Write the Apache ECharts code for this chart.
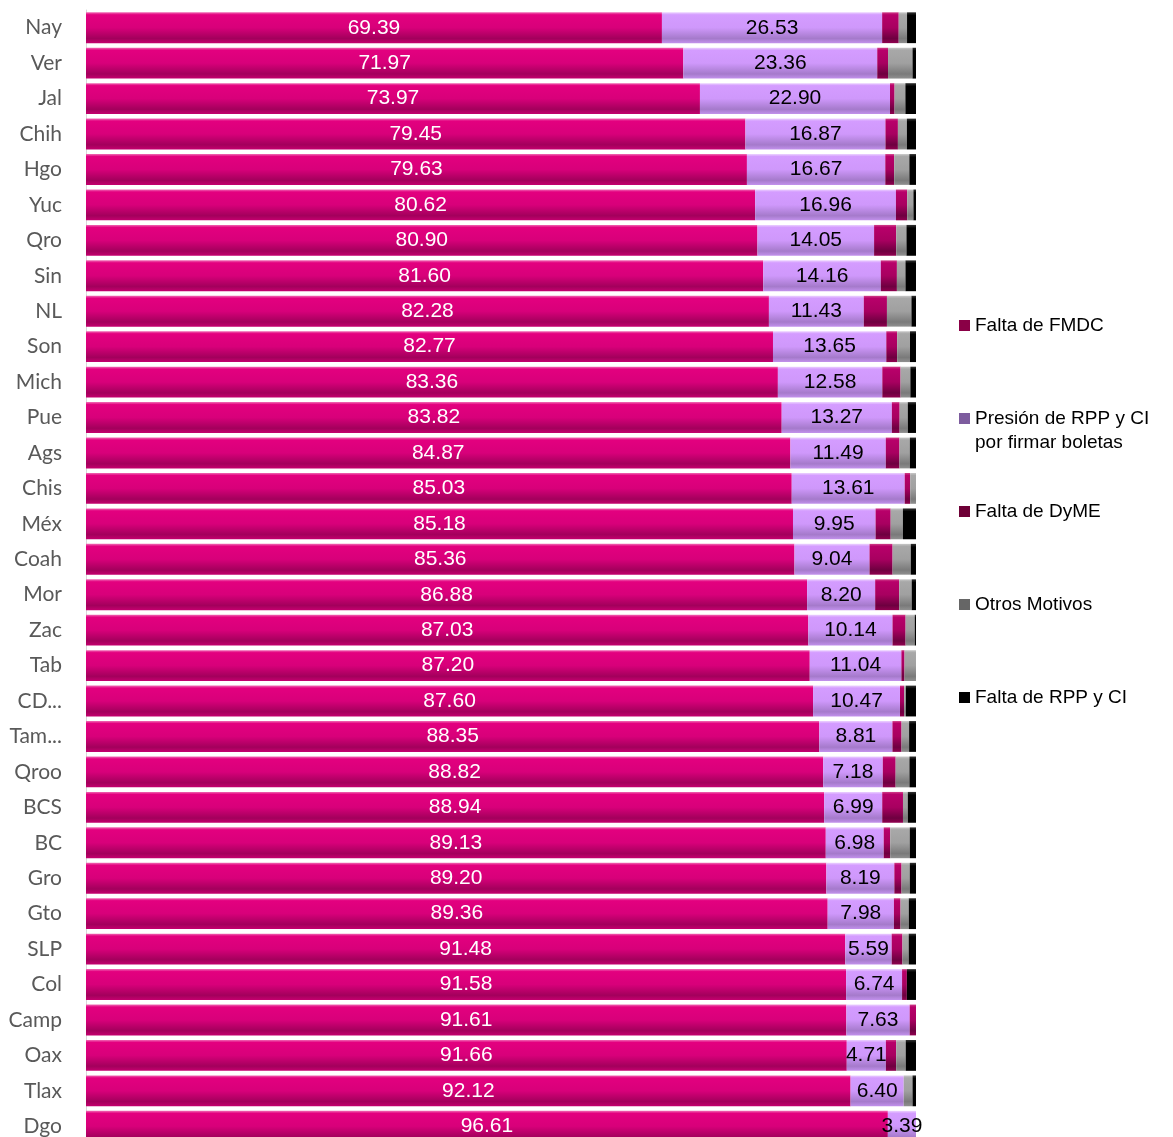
<!DOCTYPE html>
<html>
<head>
<meta charset="utf-8">
<script src="https://cdn.jsdelivr.net/npm/echarts@6/dist/echarts.min.js"></script>
<style>html,body{margin:0;padding:0;background:#fff;overflow:hidden;}#chart{width:1173px;height:1150px;}</style>
</head>
<body>
<div id="chart"></div>
<script>
const categories = ["Nay","Ver","Jal","Chih","Hgo","Yuc","Qro","Sin","NL","Son","Mich","Pue","Ags","Chis","Méx","Coah","Mor","Zac","Tab","CD...","Tam...","Qroo","BCS","BC","Gro","Gto","SLP","Col","Camp","Oax","Tlax","Dgo"];
const faltaFMDC = [69.39,71.97,73.97,79.45,79.63,80.62,80.90,81.60,82.28,82.77,83.36,83.82,84.87,85.03,85.18,85.36,86.88,87.03,87.20,87.60,88.35,88.82,88.94,89.13,89.20,89.36,91.48,91.58,91.61,91.66,92.12,96.61];
const presionRPP = [26.53,23.36,22.90,16.87,16.67,16.96,14.05,14.16,11.43,13.65,12.58,13.27,11.49,13.61,9.95,9.04,8.20,10.14,11.04,10.47,8.81,7.18,6.99,6.98,8.19,7.98,5.59,6.74,7.63,4.71,6.40,3.39];
const faltaDyME = [2.00,1.30,0.55,1.50,1.07,1.36,2.67,1.94,2.79,1.31,2.20,0.94,1.65,0.66,1.82,2.78,2.90,1.58,0.38,0.50,1.10,1.55,2.50,0.78,0.87,0.80,1.30,0.58,0.76,1.24,0.00,0.00];
const otrosMotivos = [1.00,2.95,1.30,1.08,1.83,0.75,1.23,1.03,2.95,1.55,1.18,0.98,1.25,0.70,1.47,2.19,1.50,1.10,1.38,0.20,0.91,1.66,0.58,2.36,0.99,0.99,0.75,0.00,0.00,1.15,1.06,0.00];
const faltaRPP = [1.08,0.42,1.28,1.10,0.80,0.31,1.15,1.27,0.55,0.72,0.68,0.99,0.74,0.00,1.58,0.63,0.52,0.15,0.00,1.23,0.83,0.79,0.99,0.75,0.75,0.87,0.88,1.10,0.00,1.24,0.42,0.00];
const seriesNames = ["Falta de FMDC","Presión de RPP y CI por firmar boletas","Falta de DyME","Otros Motivos","Falta de RPP y CI"];

function grad(stops){
  return {type:'linear',x:0,y:0,x2:0,y2:1,colorStops:stops.map(s=>({offset:s[0],color:s[1]}))};
}
const colors = [
  grad([[0,'#f06ab4'],[0.08,'#e3007f'],[0.5,'#d8007a'],[0.85,'#a3005c'],[1,'#c4006e']]),
  grad([[0,'#ecd2ff'],[0.08,'#d49cff'],[0.5,'#cf98fb'],[0.85,'#a57acb'],[1,'#c291ec']]),
  grad([[0,'#d0408a'],[0.08,'#b8006a'],[0.5,'#a80060'],[0.85,'#6e0040'],[1,'#90004f']]),
  grad([[0,'#c8c8c8'],[0.08,'#a8a8a8'],[0.5,'#a0a0a0'],[0.85,'#7a7a7a'],[1,'#909090']]),
  grad([[0,'#333333'],[0.1,'#000000'],[1,'#000000']])
];
const legendColors = ['#8a0046','#7d5c9e','#6e0036','#666666','#000000'];
const dataArrays = [faltaFMDC,presionRPP,faltaDyME,otrosMotivos,faltaRPP];
const labelColors = ['#ffffff','#000000',null,null,null];

const series = dataArrays.map((arr,i)=>({
  name: seriesNames[i],
  type:'bar',
  stack:'total',
  barCategoryGap:'13%',
  data: arr,
  itemStyle:{color:colors[i]},
  label: labelColors[i] ? {
    show:true, position:'inside', color:labelColors[i],
    fontFamily:'Liberation Sans, Arial, sans-serif', fontSize:21,
    formatter: p => p.value.toFixed(2)
  } : {show:false},
  emphasis:{disabled:true}
}));

const legendTops = [316,385,502,595,688];
const legends = seriesNames.map((n,i)=>({
  orient:'vertical', left:959, top: legendTops[i], padding:0,
  itemWidth:11, itemHeight:11, itemGap:0,
  icon:'rect',
  selectedMode:false,
  formatter: i===1 ? '{e| }\n{a|Presión de RPP y CI}\n{a|por firmar boletas}' : '{a|{name}}',
  textStyle:{fontFamily:'Liberation Sans, Arial, sans-serif', fontSize:19, color:'#000',
    rich:{
      e:{fontSize:19, lineHeight:24, fontFamily:'Liberation Sans, Arial, sans-serif'},
      a:{fontSize:19, lineHeight:24, color:'#000', fontFamily:'Liberation Sans, Arial, sans-serif', padding:[0,0,0,0]}
    }},
  data:[{name:n, itemStyle:{color:legendColors[i]}}]
}));

const chart = echarts.init(document.getElementById('chart'), null, {renderer:'canvas'});
chart.setOption({
  animation:false,
  backgroundColor:'#ffffff',
  grid:{left:86, top:10, width:830, height:1134, containLabel:false},
  legend: legends,
  xAxis:{type:'value', min:0, max:100, show:false},
  yAxis:{type:'category', data:categories, inverse:true,
    axisLine:{show:true, lineStyle:{color:'#d9d9d9', width:1}},
    axisTick:{show:false},
    axisLabel:{color:'#595959', fontFamily:'Lato, Open Sans, sans-serif', fontSize:21, margin:24}
  },
  series: series
});
</script>
</body>
</html>
